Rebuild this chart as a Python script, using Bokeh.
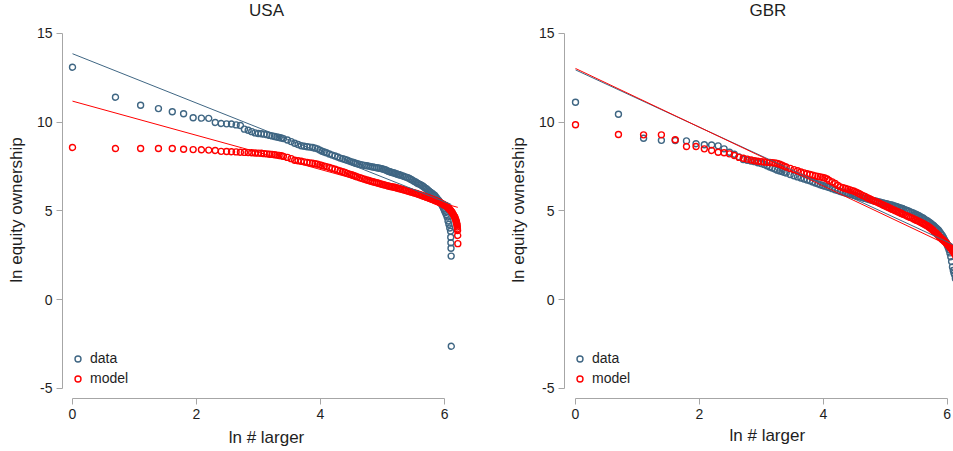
import numpy as np
from bokeh.plotting import figure
from bokeh.layouts import row
from bokeh.models import Range1d, Legend, LegendItem, FixedTicker, Title
from bokeh.embed import file_html
from bokeh.resources import INLINE

# ---------------- data: rank ("# larger"), plotted on ln scale ----------------
rank_g1 = list(range(1, 31))            # 1..30
rank_g2 = list(range(32, 61, 2))        # 32..60
rank_g3 = list(range(63, 100, 3))       # 63..99
rank_g4 = list(range(103, 200, 4))      # 103..199
rank_g5 = list(range(205, 446, 6))      # 205..445
body_rank = rank_g1 + rank_g2 + rank_g3 + rank_g4 + rank_g5

# USA, data
usa_data_rank = body_rank + [446, 447, 448, 449, 450]
usa_data_val = [
    13.10, 11.41, 10.96, 10.77, 10.59, 10.48, 10.25, 10.23, 10.22, 9.99,
    9.93, 9.91, 9.90, 9.85, 9.82, 9.61, 9.55, 9.47, 9.40, 9.37,
    9.35, 9.33, 9.30, 9.26, 9.23, 9.20, 9.17, 9.14, 9.11, 9.08,
    9.00, 8.91, 8.82, 8.75, 8.68, 8.65, 8.62, 8.60, 8.58, 8.54, 8.50, 8.43, 8.37, 8.32, 8.28,
    8.21, 8.15, 8.10, 8.04, 7.98, 7.94, 7.90, 7.86, 7.81, 7.77, 7.73, 7.69, 7.66,
    7.62, 7.60, 7.57, 7.55, 7.53, 7.50, 7.48, 7.46, 7.44, 7.42, 7.40, 7.38, 7.35,
    7.32, 7.28, 7.24, 7.21, 7.19, 7.16, 7.14, 7.11, 7.09, 7.06, 7.04, 7.02,
    6.98, 6.94, 6.91, 6.88, 6.83, 6.78, 6.73, 6.68, 6.63, 6.58,
    6.54, 6.50, 6.46, 6.41, 6.36, 6.30, 6.25, 6.19, 6.13, 6.08,
    6.04, 5.99, 5.93, 5.89, 5.82, 5.75, 5.67, 5.60, 5.53, 5.45,
    5.37, 5.27, 5.15, 5.03, 4.91, 4.80, 4.66, 4.44, 4.25, 4.04, 3.86,
    3.52, 3.21, 2.90, 2.46, -2.62]

# USA, model
usa_model_rank = body_rank + [450, 455, 460, 465, 470, 474, 478, 482, 485, 488,
                              490, 492, 494, 496, 497, 498, 499, 500]
usa_model_val = [
    8.58, 8.52, 8.52, 8.52, 8.52, 8.48, 8.46, 8.45, 8.43, 8.41,
    8.36, 8.35, 8.34, 8.33, 8.31, 8.30, 8.29, 8.28, 8.27, 8.26,
    8.25, 8.23, 8.22, 8.20, 8.19, 8.17, 8.15, 8.13, 8.11, 8.08,
    8.02, 7.95, 7.86, 7.83, 7.80, 7.77, 7.74, 7.71, 7.69, 7.66, 7.64, 7.60, 7.56, 7.53, 7.50,
    7.45, 7.40, 7.35, 7.30, 7.25, 7.21, 7.17, 7.12, 7.08, 7.04, 7.00, 6.96, 6.92,
    6.87, 6.83, 6.79, 6.75, 6.72, 6.68, 6.65, 6.62, 6.59, 6.56, 6.53, 6.51, 6.48,
    6.46, 6.43, 6.41, 6.39, 6.37, 6.36, 6.34, 6.32, 6.30, 6.28, 6.26, 6.24,
    6.21, 6.18, 6.15, 6.13, 6.10, 6.07, 6.05, 6.02, 6.00, 5.97,
    5.94, 5.92, 5.89, 5.86, 5.83, 5.81, 5.78, 5.76, 5.73, 5.71,
    5.68, 5.66, 5.63, 5.61, 5.58, 5.56, 5.53, 5.51, 5.48, 5.46,
    5.43, 5.40, 5.37, 5.34, 5.31, 5.28, 5.24, 5.19, 5.14, 5.09, 5.04,
    4.99, 4.93, 4.87, 4.81, 4.74, 4.68, 4.62, 4.54, 4.47, 4.40,
    4.34, 4.27, 4.20, 4.10, 3.99, 3.90, 3.62, 3.16]

# GBR, data
gbr_data_rank = body_rank + [450, 455, 460, 470, 480]
gbr_data_val = [
    11.13, 10.45, 9.10, 8.98, 8.97, 8.95, 8.79, 8.73, 8.72, 8.67,
    8.50, 8.31, 8.20, 8.05, 7.90, 7.86, 7.82, 7.78, 7.72, 7.68,
    7.62, 7.55, 7.48, 7.42, 7.36, 7.30, 7.26, 7.22, 7.18, 7.14,
    7.06, 6.99, 6.92, 6.86, 6.80, 6.75, 6.70, 6.64, 6.58, 6.53, 6.48, 6.44, 6.40, 6.36, 6.32,
    6.26, 6.20, 6.15, 6.10, 6.06, 6.02, 5.99, 5.95, 5.92, 5.88, 5.85, 5.82, 5.79,
    5.75, 5.71, 5.68, 5.64, 5.61, 5.58, 5.56, 5.53, 5.51, 5.48, 5.45, 5.43, 5.41,
    5.39, 5.36, 5.34, 5.32, 5.29, 5.27, 5.24, 5.22, 5.19, 5.16, 5.14, 5.11,
    5.07, 5.03, 4.99, 4.95, 4.91, 4.87, 4.83, 4.79, 4.75, 4.70,
    4.66, 4.62, 4.57, 4.52, 4.47, 4.42, 4.37, 4.32, 4.27, 4.22,
    4.17, 4.11, 4.05, 3.99, 3.93, 3.86, 3.78, 3.70, 3.61, 3.51,
    3.42, 3.32, 3.21, 3.09, 2.96, 2.82, 2.64, 2.42, 2.15, 1.85, 1.65,
    1.50, 1.40, 1.20, 0.80, 0.30]

# GBR, model
gbr_model_rank = body_rank + [450, 455, 460, 470, 480]
gbr_model_val = [
    9.86, 9.31, 9.29, 9.29, 9.01, 8.63, 8.63, 8.50, 8.41, 8.31,
    8.28, 8.22, 8.13, 8.02, 7.97, 7.92, 7.87, 7.83, 7.80, 7.78,
    7.76, 7.74, 7.73, 7.72, 7.71, 7.68, 7.63, 7.58, 7.53, 7.48,
    7.40, 7.33, 7.27, 7.20, 7.15, 7.10, 7.06, 7.02, 6.98, 6.95, 6.92, 6.89, 6.86, 6.80, 6.72,
    6.64, 6.55, 6.44, 6.36, 6.31, 6.27, 6.23, 6.19, 6.15, 6.11, 6.06, 6.00, 5.94,
    5.88, 5.82, 5.75, 5.69, 5.64, 5.58, 5.53, 5.49, 5.44, 5.39, 5.34, 5.30, 5.25,
    5.21, 5.17, 5.13, 5.09, 5.05, 5.02, 4.98, 4.95, 4.91, 4.88, 4.84, 4.81,
    4.77, 4.72, 4.68, 4.64, 4.60, 4.55, 4.51, 4.47, 4.43, 4.39,
    4.35, 4.31, 4.27, 4.23, 4.19, 4.14, 4.09, 4.04, 3.99, 3.93,
    3.87, 3.81, 3.75, 3.69, 3.63, 3.57, 3.51, 3.45, 3.40, 3.35,
    3.30, 3.25, 3.20, 3.14, 3.08, 3.02, 2.96, 2.90, 2.84, 2.77, 2.70,
    2.64, 2.58, 2.50, 2.35, 2.15]

# fitted lines: (intercept, slope) in ln-ln space
usa_fit_data = (13.86, -1.39)
usa_fit_model = (11.19, -0.963)
gbr_fit_data = (12.95, -1.615)
gbr_fit_model = (13.03, -1.655)

x_ticks = [0, 2, 4, 6]
y_ticks = [-5, 0, 5, 10, 15]

BLUE = "#3f6683"
RED = "#ff0000"
AXIS_GREY = "#a6a6a6"
TEXT = "#1e1e1e"
FONT = "Liberation Sans"


def panel(title, d_rank, d_val, m_rank, m_val, fit_d, fit_m,
          width, border_left, border_right, x_start, x_end, shift=None):
    p = figure(width=width, height=451, output_backend="svg", toolbar_location=None,
               x_range=Range1d(x_start, x_end), y_range=Range1d(-5.5634, 15.676),
               min_border_left=border_left, min_border_right=border_right,
               min_border_top=21, min_border_bottom=53)
    p.grid.visible = False
    p.outline_line_color = None
    p.background_fill_color = "white"
    p.border_fill_color = "white"

    p.title.text = title
    p.title.text_font = FONT
    p.title.text_font_size = "17px"
    p.title.text_font_style = "normal"
    p.title.text_color = TEXT
    p.title.vertical_align = "top"
    p.title.standoff = 0
    if shift is None:
        p.title.align = "center"
    else:
        p.title.align = "left"
        p.title.offset = shift[0]

    p.xaxis.ticker = FixedTicker(ticks=x_ticks)
    p.yaxis.ticker = FixedTicker(ticks=y_ticks)
    p.yaxis.major_label_overrides = {t: str(t) for t in y_ticks}
    p.xaxis.bounds = (min(x_ticks), max(x_ticks))
    p.yaxis.bounds = (min(y_ticks), max(y_ticks))
    p.yaxis.axis_label = "ln equity ownership"
    for ax in (p.xaxis[0], p.yaxis[0]):
        ax.axis_line_color = AXIS_GREY
        ax.major_tick_line_color = AXIS_GREY
        ax.minor_tick_line_color = None
        ax.major_tick_out = 6
        ax.major_tick_in = 0
        ax.major_label_text_font = FONT
        ax.major_label_text_font_size = "14px"
        ax.major_label_text_color = TEXT
        ax.major_label_standoff = 4
        ax.axis_label_text_font = FONT
        ax.axis_label_text_font_size = "17px"
        ax.axis_label_text_font_style = "normal"
        ax.axis_label_text_color = TEXT
    p.yaxis.axis_label_standoff = 8
    if shift is None:
        p.xaxis.axis_label = "ln # larger"
        p.xaxis.axis_label_standoff = 6
    else:
        p.add_layout(Title(text="ln # larger", align="left", offset=shift[1],
                           vertical_align="top", standoff=8, text_font=FONT,
                           text_font_size="17px", text_font_style="normal",
                           text_color=TEXT), "below")

    dx = np.log(np.array(d_rank, dtype=float))
    mx = np.log(np.array(m_rank, dtype=float))
    r_d = p.scatter(dx, d_val, marker="circle", size=6, fill_color=None,
                    line_color=BLUE, line_width=1.4)
    r_m = p.scatter(mx, m_val, marker="circle", size=6, fill_color=None,
                    line_color=RED, line_width=1.4)

    xd = np.array([0.0, dx.max()])
    xm = np.array([0.0, mx.max()])
    p.line(xd, fit_d[0] + fit_d[1] * xd, line_color=BLUE, line_width=1)
    p.line(xm, fit_m[0] + fit_m[1] * xm, line_color=RED, line_width=1)

    legend = Legend(items=[LegendItem(label="data", renderers=[r_d]),
                           LegendItem(label="model", renderers=[r_m])],
                    location=(3, 5), margin=0, padding=5, spacing=0,
                    glyph_width=15, glyph_height=15, label_height=20,
                    label_standoff=5, label_text_font=FONT,
                    label_text_font_size="14px", label_text_color=TEXT,
                    background_fill_alpha=0, border_line_alpha=0)
    p.add_layout(legend)
    return p


p1 = panel("USA", usa_data_rank, usa_data_val, usa_model_rank, usa_model_val,
           usa_fit_data, usa_fit_model, 490, 62, 20, -0.1613, 6.419)
p2 = panel("GBR", gbr_data_rank, gbr_data_val, gbr_model_rank, gbr_model_val,
           gbr_fit_data, gbr_fit_model, 463, 74, 0, -0.1776, 6.101,
           shift=(185, 165))

layout = row(p1, p2, spacing=0)
open("out.html", "w").write(file_html(layout, INLINE))
